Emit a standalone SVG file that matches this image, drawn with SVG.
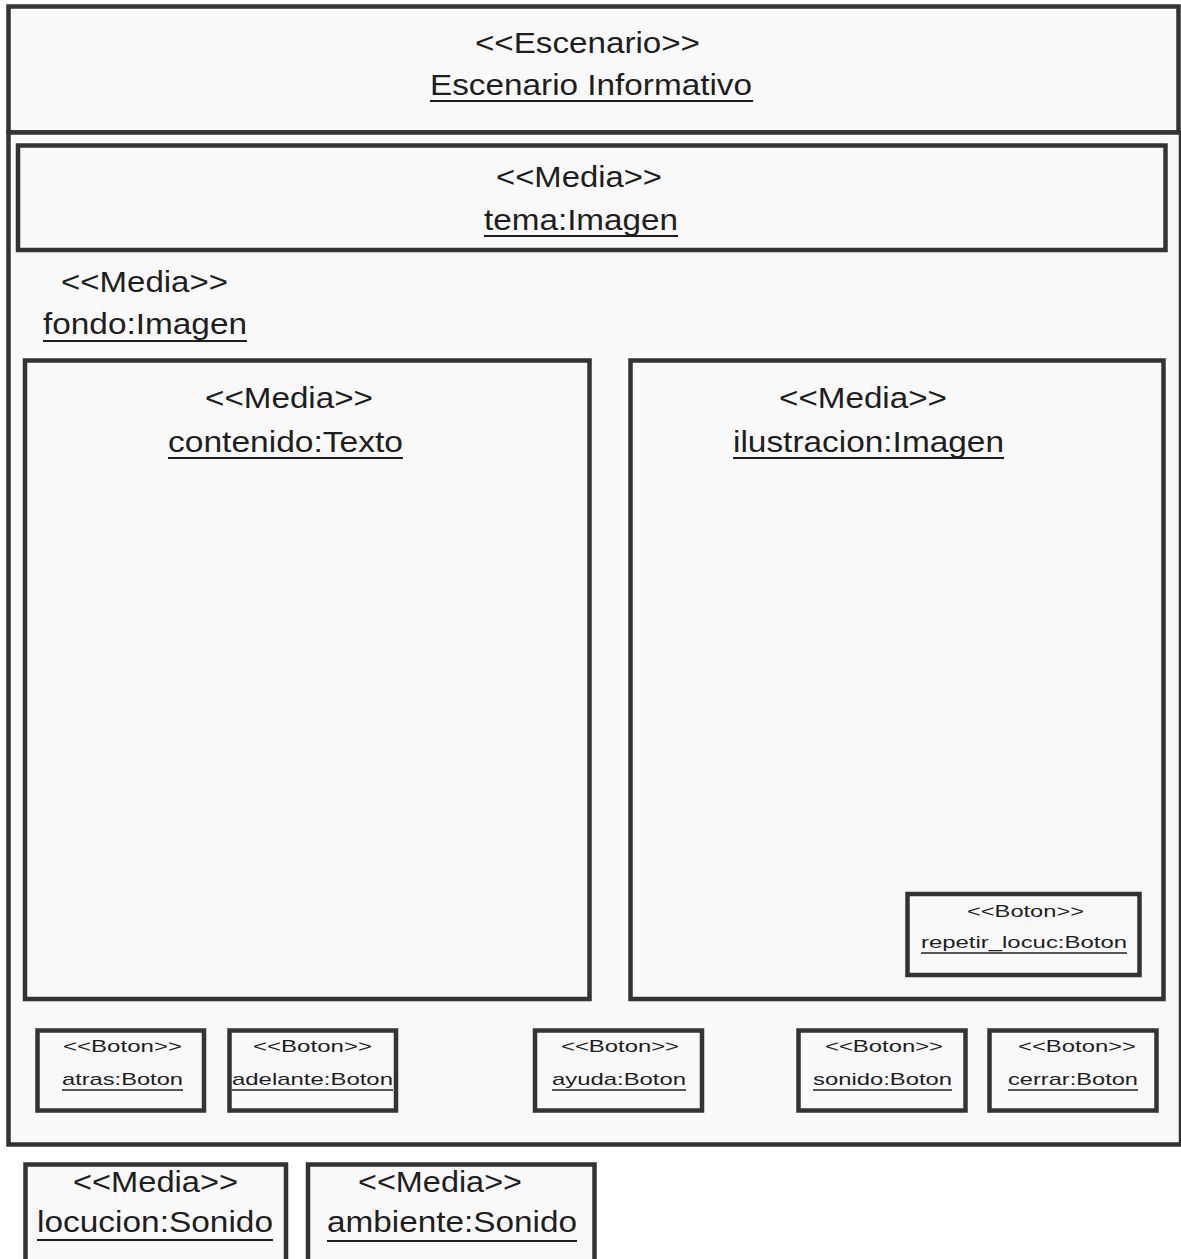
<svg xmlns="http://www.w3.org/2000/svg" width="1181" height="1259" viewBox="0 0 1181 1259">
  <style>
    .box { fill: #f9f9f9; stroke: #333333; stroke-width: 4.5; }
    .big { font-family: "Liberation Sans", Arial, sans-serif; font-size: 29px; fill: #1e1e1e; }
    .small { font-family: "Liberation Sans", Arial, sans-serif; font-size: 17px; fill: #1e1e1e; }
    .ul { stroke: #1e1e1e; stroke-width: 2; }
    .ul-s { stroke: #1e1e1e; stroke-width: 1.6; }
  </style>
  <rect width="1181" height="1259" fill="#ffffff"/>

  <!-- Scenario header -->
  <g id="escenario">
    <rect class="box" x="8.5" y="6.5" width="1170" height="126"/>
    <text class="big" x="475" y="53" textLength="225" lengthAdjust="spacingAndGlyphs">&lt;&lt;Escenario&gt;&gt;</text>
    <text class="big" x="430" y="95" textLength="322" lengthAdjust="spacingAndGlyphs">Escenario Informativo</text>
    <line class="ul" x1="430" y1="101" x2="753" y2="101"/>
  </g>

  <!-- Scenario body with background media -->
  <g id="fondo">
    <rect class="box" x="8.5" y="132.5" width="1172.5" height="1012"/>
    <text class="big" x="61" y="292" textLength="167" lengthAdjust="spacingAndGlyphs">&lt;&lt;Media&gt;&gt;</text>
    <text class="big" x="43" y="334" textLength="204" lengthAdjust="spacingAndGlyphs">fondo:Imagen</text>
    <line class="ul" x1="43" y1="341" x2="247" y2="341"/>
  </g>

  <g id="tema">
    <rect class="box" x="18" y="145.5" width="1147.5" height="104.5"/>
    <text class="big" x="496" y="187" textLength="166" lengthAdjust="spacingAndGlyphs">&lt;&lt;Media&gt;&gt;</text>
    <text class="big" x="484" y="230" textLength="194" lengthAdjust="spacingAndGlyphs">tema:Imagen</text>
    <line class="ul" x1="484" y1="236" x2="678" y2="236"/>
  </g>

  <g id="contenido">
    <rect class="box" x="25" y="360.5" width="564.5" height="638.5"/>
    <text class="big" x="205" y="408" textLength="168" lengthAdjust="spacingAndGlyphs">&lt;&lt;Media&gt;&gt;</text>
    <text class="big" x="168" y="452" textLength="235" lengthAdjust="spacingAndGlyphs">contenido:Texto</text>
    <line class="ul" x1="168" y1="458" x2="403" y2="458"/>
  </g>

  <g id="ilustracion">
    <rect class="box" x="630.5" y="360.5" width="533" height="638.5"/>
    <text class="big" x="779" y="408" textLength="168" lengthAdjust="spacingAndGlyphs">&lt;&lt;Media&gt;&gt;</text>
    <text class="big" x="733" y="452" textLength="271" lengthAdjust="spacingAndGlyphs">ilustracion:Imagen</text>
    <line class="ul" x1="733" y1="458" x2="1004" y2="458"/>
  </g>

  <g id="repetir_locuc">
    <rect class="box" x="907.5" y="894" width="232" height="81"/>
    <text class="small" x="967" y="917" textLength="117" lengthAdjust="spacingAndGlyphs">&lt;&lt;Boton&gt;&gt;</text>
    <text class="small" x="921" y="948" textLength="206" lengthAdjust="spacingAndGlyphs">repetir_locuc:Boton</text>
    <line class="ul-s" x1="921" y1="953" x2="1127" y2="953"/>
  </g>

  <!-- Navigation buttons -->
  <g id="atras">
    <rect class="box" x="37.5" y="1030.5" width="166.5" height="80"/>
    <text class="small" x="63" y="1052" textLength="119" lengthAdjust="spacingAndGlyphs">&lt;&lt;Boton&gt;&gt;</text>
    <text class="small" x="62" y="1085" textLength="121" lengthAdjust="spacingAndGlyphs">atras:Boton</text>
    <line class="ul-s" x1="62" y1="1090" x2="183" y2="1090"/>
  </g>

  <g id="adelante">
    <rect class="box" x="229.5" y="1030.5" width="166.5" height="80"/>
    <text class="small" x="253" y="1052" textLength="119" lengthAdjust="spacingAndGlyphs">&lt;&lt;Boton&gt;&gt;</text>
    <text class="small" x="232" y="1085" textLength="161" lengthAdjust="spacingAndGlyphs">adelante:Boton</text>
    <line class="ul-s" x1="232" y1="1090" x2="393" y2="1090"/>
  </g>

  <g id="ayuda">
    <rect class="box" x="535" y="1030.5" width="167" height="80"/>
    <text class="small" x="561" y="1052" textLength="118" lengthAdjust="spacingAndGlyphs">&lt;&lt;Boton&gt;&gt;</text>
    <text class="small" x="552" y="1085" textLength="134" lengthAdjust="spacingAndGlyphs">ayuda:Boton</text>
    <line class="ul-s" x1="552" y1="1090" x2="686" y2="1090"/>
  </g>

  <g id="sonido">
    <rect class="box" x="798.5" y="1030.5" width="167" height="80"/>
    <text class="small" x="825" y="1052" textLength="118" lengthAdjust="spacingAndGlyphs">&lt;&lt;Boton&gt;&gt;</text>
    <text class="small" x="813" y="1085" textLength="139" lengthAdjust="spacingAndGlyphs">sonido:Boton</text>
    <line class="ul-s" x1="813" y1="1090" x2="952" y2="1090"/>
  </g>

  <g id="cerrar">
    <rect class="box" x="989.5" y="1030.5" width="167" height="80"/>
    <text class="small" x="1018" y="1052" textLength="118" lengthAdjust="spacingAndGlyphs">&lt;&lt;Boton&gt;&gt;</text>
    <text class="small" x="1008" y="1085" textLength="130" lengthAdjust="spacingAndGlyphs">cerrar:Boton</text>
    <line class="ul-s" x1="1008" y1="1090" x2="1138" y2="1090"/>
  </g>

  <!-- Sound media outside the scenario -->
  <g id="locucion">
    <rect class="box" x="25.5" y="1164.5" width="260.5" height="120"/>
    <text class="big" x="73" y="1192" textLength="165" lengthAdjust="spacingAndGlyphs">&lt;&lt;Media&gt;&gt;</text>
    <text class="big" x="37" y="1232" textLength="236" lengthAdjust="spacingAndGlyphs">locucion:Sonido</text>
    <line class="ul" x1="37" y1="1240" x2="273" y2="1240"/>
  </g>

  <g id="ambiente">
    <rect class="box" x="308" y="1164.5" width="286.5" height="120"/>
    <text class="big" x="358" y="1192" textLength="164" lengthAdjust="spacingAndGlyphs">&lt;&lt;Media&gt;&gt;</text>
    <text class="big" x="327" y="1232" textLength="250" lengthAdjust="spacingAndGlyphs">ambiente:Sonido</text>
    <line class="ul" x1="327" y1="1241" x2="577" y2="1241"/>
  </g>

  <g id="connectors"/>
</svg>
